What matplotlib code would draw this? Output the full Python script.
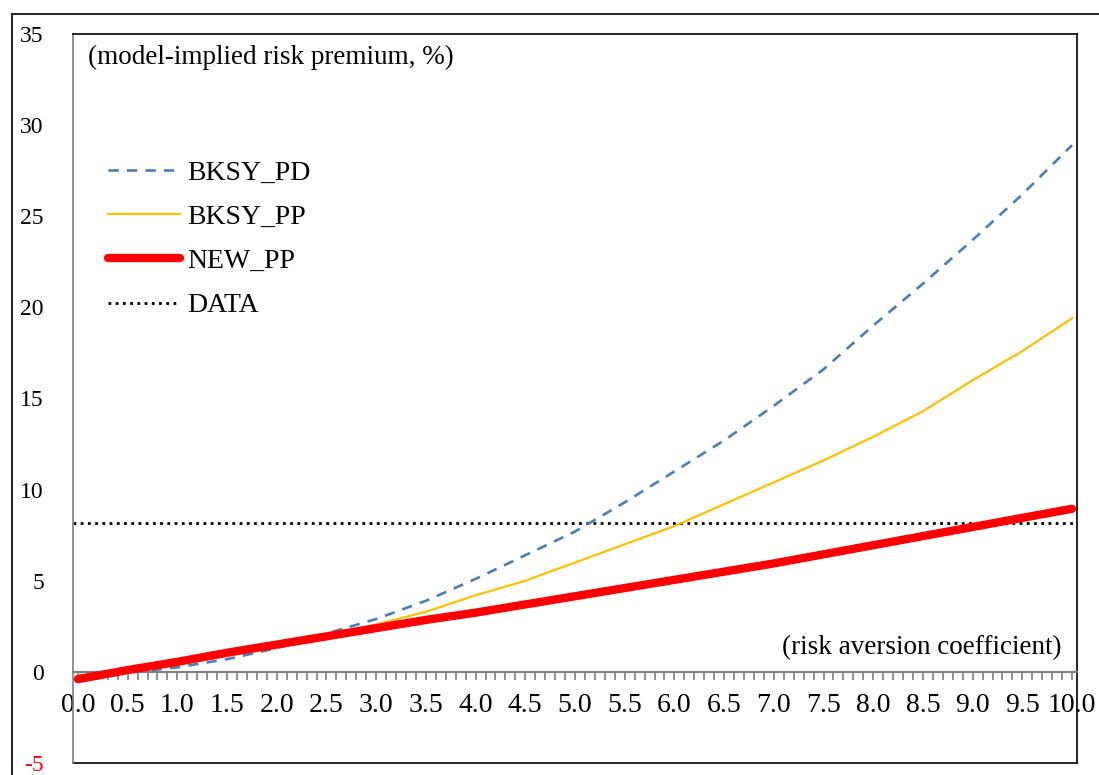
import matplotlib
matplotlib.use("Agg")
import matplotlib.pyplot as plt
from matplotlib.lines import Line2D
import numpy as np

# ---- data ----
gamma = [0.0, 0.5, 1.0, 1.5, 2.0, 2.5, 3.0, 3.5, 4.0, 4.5, 5.0,
         5.5, 6.0, 6.5, 7.0, 7.5, 8.0, 8.5, 9.0, 9.5, 10.0]
bksy_pd = [-0.2, -0.05, 0.25, 0.7, 1.3, 2.1, 2.9, 3.9, 5.1, 6.4, 7.7,
           9.3, 11.0, 12.7, 14.6, 16.6, 19.0, 21.3, 23.7, 26.2, 28.9]
bksy_pp = [-0.2, 0.0, 0.4, 0.9, 1.4, 2.0, 2.6, 3.3, 4.2, 5.0, 6.0,
           7.0, 8.0, 9.2, 10.4, 11.6, 12.9, 14.3, 16.0, 17.6, 19.4]
new_pp = [-0.4, 0.1, 0.55, 1.05, 1.5, 1.95, 2.4, 2.85, 3.25, 3.7, 4.15,
          4.6, 5.05, 5.5, 5.95, 6.45, 6.95, 7.45, 7.95, 8.45, 8.95]
data_value = 8.18
x_tick_values = [i * 0.5 for i in range(21)]
y_tick_values = [-5, 0, 5, 10, 15, 20, 25, 30, 35]

W, H = 1099, 775
fig = plt.figure(figsize=(W / 100, H / 100), dpi=100)
plt.rcParams['font.family'] = ['Liberation Serif', 'DejaVu Serif']

# outer frame (top and left edges visible)
fig.add_artist(Line2D([12 / W, 1.0], [1 - 14 / H, 1 - 14 / H], transform=fig.transFigure,
                      color='black', lw=1.2))
fig.add_artist(Line2D([12 / W, 12 / W], [0.0, 1 - 14 / H], transform=fig.transFigure,
                      color='black', lw=1.2))

ax = fig.add_axes([73 / W, 12 / H, (1077 - 73) / W, (763 - 34) / H])
ax.set_xlim(-0.05, 10.05)
ax.set_ylim(-5, 35)

ax.axhline(data_value, color='black', lw=2.0, linestyle=(0, (1.0, 1.6)), zorder=2)
ax.plot(gamma, bksy_pd, color='#4a7ebb', lw=1.9, linestyle=(0, (3.9, 3.1)), zorder=3)
ax.plot(gamma, bksy_pp, color='#ffc000', lw=1.6, zorder=4)
ax.plot(gamma, new_pp, color='#ff0000', lw=6.0, solid_capstyle='round', zorder=5)

# spines
ax.spines['left'].set_color('#808080')
ax.spines['left'].set_linewidth(1.2)
ax.spines['bottom'].set_position(('data', 0))
ax.spines['bottom'].set_color('#808080')
ax.spines['bottom'].set_linewidth(1.5)
for s in ['top', 'right']:
    ax.spines[s].set_color('black')
    ax.spines[s].set_linewidth(1.2)
ax.plot([0, 1], [0, 0], transform=ax.transAxes, color='black', lw=1.2, clip_on=False)

# x ticks
ax.set_xticks(x_tick_values)
ax.set_xticklabels([f"{v:.1f}" for v in x_tick_values], fontsize=20)
ax.set_xticks(np.arange(0, 101) / 10.0, minor=True)
ax.tick_params(axis='x', which='both', direction='out', length=6, width=1.2,
               color='#808080', pad=9)
# y ticks
ax.set_yticks(y_tick_values)
ax.set_yticklabels([str(v) for v in y_tick_values], fontsize=17)
ax.tick_params(axis='y', length=0, pad=21)
for lbl, v in zip(ax.get_yticklabels(), y_tick_values):
    if v < 0:
        lbl.set_color('#ff0000')

ax.text(88 / W, 1 - 57 / H, "(model-implied risk premium, %)", transform=fig.transFigure,
        fontsize=19.5, ha='left', va='center')
ax.text(1062 / W, 1 - 648 / H, "(risk aversion coefficient)", transform=fig.transFigure,
        fontsize=19.5, ha='right', va='center')

handles = [
    Line2D([], [], color='#4a7ebb', lw=1.9, linestyle=(0, (3.9, 3.1))),
    Line2D([], [], color='#ffc000', lw=1.6),
    Line2D([], [], color='#ff0000', lw=6.0, solid_capstyle='round'),
    Line2D([], [], color='black', lw=2.0, linestyle=(0, (1.0, 1.6))),
]
labels = ["BKSY_PD", "BKSY_PP", "NEW_PP", "DATA"]
fig.legend(handles, labels, loc='upper left', bbox_to_anchor=(108 / W, 1 - 160 / H),
           frameon=False, fontsize=20, handlelength=2.6, handletextpad=0.25,
           labelspacing=0.68, borderpad=0, borderaxespad=0)

fig.savefig("out.png", dpi=100)
